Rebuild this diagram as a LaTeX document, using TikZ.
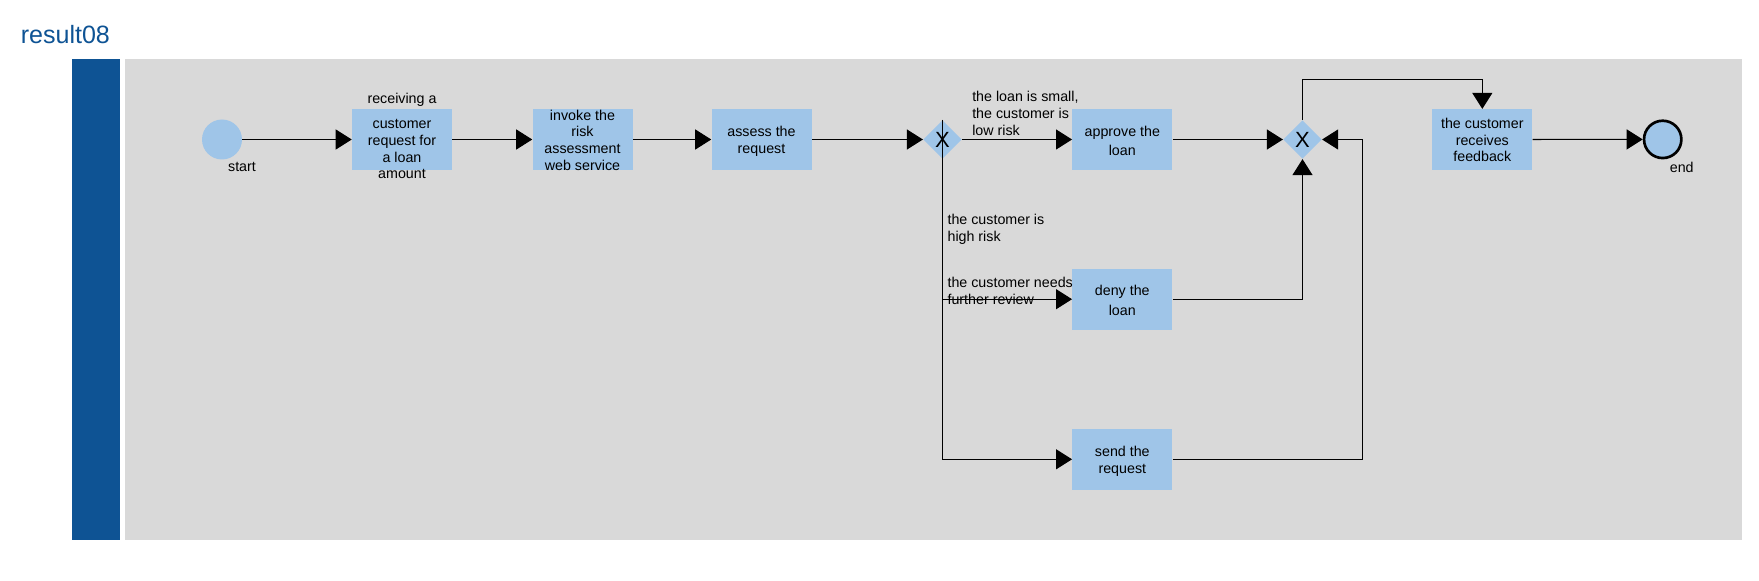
\documentclass[tikz,border=0pt]{standalone}
\usepackage{fontspec}
\setmainfont{Liberation Sans}
\usetikzlibrary{arrows.meta,shapes.geometric}
\definecolor{laneblue}{HTML}{0E5394}
\definecolor{lanegray}{HTML}{D9D9D9}
\definecolor{boxblue}{HTML}{9FC5E8}
\tikzset{
  px/.style={x=0.75pt,y=-0.75pt},
  task/.style={rectangle,fill=boxblue,minimum width=75pt,minimum height=45.5pt,inner sep=0pt},
  tasktext/.style={inner sep=0pt,align=center,font=\fontsize{10.7pt}{12.5pt}\selectfont,execute at begin node=\strut,execute at end node=\strut,yshift=-2.2pt},
  tasktextwide/.style={tasktext,font=\fontsize{10.7pt}{14.5pt}\selectfont,yshift=-0.75pt},
  gateway/.style={diamond,fill=boxblue,minimum width=29pt,minimum height=29pt,inner sep=0pt,font=\fontsize{16.5pt}{18pt}\selectfont},
  startev/.style={circle,fill=boxblue,minimum size=30pt,inner sep=0pt},
  endev/.style={circle,fill=boxblue,draw=black,line width=2pt,minimum size=28pt,inner sep=0pt},
  lbl/.style={inner sep=0pt,align=left,font=\fontsize{10.7pt}{12.75pt}\selectfont},
  flow/.style={draw=black,line width=0.8pt,-{Triangle[length=12pt,width=15pt]}},
}
\begin{document}
\begin{tikzpicture}[px]
\useasboundingbox (0,0) rectangle (1759,581);
\node[anchor=base west,inner sep=0pt,text=laneblue,font=\fontsize{18.8pt}{22pt}\selectfont] (title) at (20.5,44) {result08};
\fill[laneblue] (72,59.5) rectangle (120,540);
\fill[lanegray] (124.5,59.5) rectangle (1741.5,540);

\node[startev] (start) at (222,139.5) {};
\node[lbl] (startlbl) at (242,167) {start};
\node[task,label={[tasktext,yshift=2.8pt]center:{receiving a\\[6.25pt]customer\\request for\\a loan\\amount}}] (t1) at (402,139.5) {};
\node[task,label={[tasktext]center:{invoke the\\risk\\assessment\\web service}}] (t2) at (582.5,139.5) {};
\node[task,label={[tasktext]center:{assess the\\request}}] (t3) at (761.5,139.5) {};
\node[gateway] (g1) at (942.5,139.5) {X};
\node[task,label={[tasktextwide]center:{approve the\\loan}}] (approve) at (1122.3,139.5) {};
\node[task,label={[tasktextwide]center:{deny the\\loan}}] (deny) at (1122.3,299.2) {};
\node[task,label={[tasktext]center:{send the\\request}}] (send) at (1122.3,459.3) {};
\node[gateway] (g2) at (1302.5,139.5) {X};
\node[task,label={[tasktext]center:{the customer\\receives\\feedback}}] (feedback) at (1482.3,139.5) {};
\node[endev] (end) at (1662.7,139.4) {};
\node[lbl] (endlbl) at (1681.7,167.3) {end};

\node[lbl,anchor=west] (l1) at (972,113.7) {the loan is small,\\the customer is\\low risk};
\node[lbl,anchor=west] (l2) at (947.3,229.7) {the customer is\\high risk};
\node[lbl,anchor=west] (l3) at (947.3,290.5) {the customer needs\\further review};

\coordinate (sr) at (1362.3,459.3);
\coordinate (loop) at (1302.5,79.3);

\draw[flow] (start) -- (t1);
\draw[flow] (t1) -- (t2);
\draw[flow] (t2) -- (t3);
\draw[flow] (t3) -- (g1);
\draw[flow] (g1) -- (approve);
\draw[flow] (approve) -- (g2);
\draw[flow] (g1.north) |- (deny.west);
\draw[flow] (g1.north) |- (send.west);
\draw[flow] (deny.east) -| (g2.south);
\draw[flow] (send.east) -- (sr) |- (g2.east);
\draw[flow] (g2.north) -- (loop) -| (feedback.north);
\draw[flow] (feedback) -- (end);
\end{tikzpicture}
\end{document}
